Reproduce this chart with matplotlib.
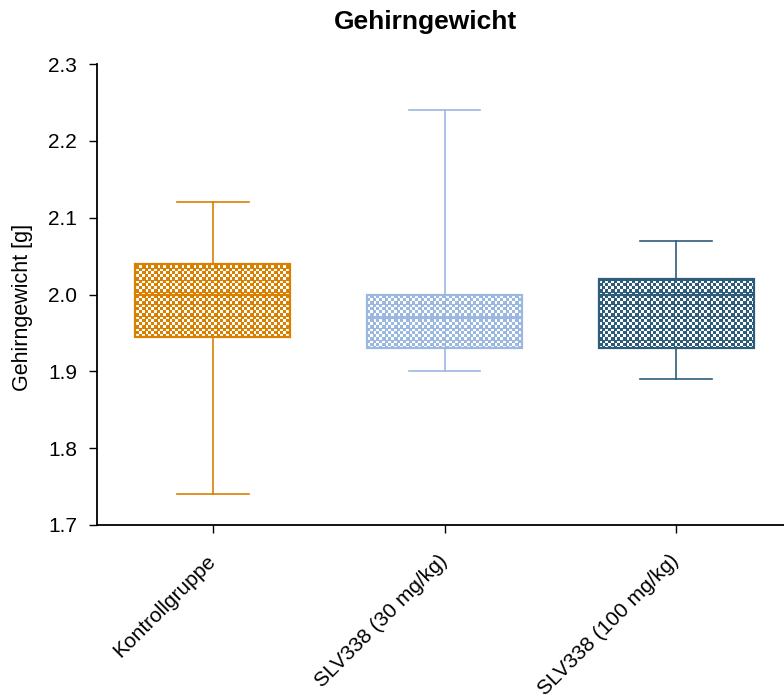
import numpy as np
import matplotlib
matplotlib.use("Agg")
import matplotlib.pyplot as plt
from matplotlib.colors import to_rgba

plt.rcParams['font.family'] = ['Liberation Sans', 'DejaVu Sans']

# Group labels and summary statistics (brain weight in g)
groups = ["Kontrollgruppe", "SLV338 (30 mg/kg)", "SLV338 (100 mg/kg)"]
whisker_low = [1.74, 1.90, 1.89]
q1 = [1.945, 1.93, 1.93]
median = [2.00, 1.97, 2.00]
q3 = [2.04, 2.00, 2.02]
whisker_high = [2.12, 2.24, 2.07]
colors = ["#D98000", "#9BB9E0", "#2E5D7C"]

yticks = [1.7, 1.8, 1.9, 2.0, 2.1, 2.2, 2.3]

W, H = 784, 700
fig = plt.figure(figsize=(W / 100, H / 100), dpi=100)
ax_l, ax_b, ax_w, ax_h = 97, 175, 695, 461
ax = fig.add_axes([ax_l / W, ax_b / H, ax_w / W, ax_h / H])

stats = []
for i, g in enumerate(groups):
    stats.append(dict(label=g, whislo=whisker_low[i], q1=q1[i], med=median[i],
                      q3=q3[i], whishi=whisker_high[i], fliers=[]))

positions = np.arange(len(groups))
bp = ax.bxp(stats, positions=positions, widths=0.67, capwidths=0.31,
            patch_artist=True, showfliers=False, manage_ticks=False)

# Checkered fill pattern in screen pixels, clipped to each box
yy, xx = np.mgrid[0:ax_h, 0:ax_w]
mask = (((xx // 3) + (yy // 3)) % 2 == 0) | (xx % 12 == 0) | (yy % 12 == 0)

for i, c in enumerate(colors):
    box = bp['boxes'][i]
    box.set_facecolor('none')
    box.set_edgecolor(c)
    box.set_linewidth(1.6)
    box.set_zorder(3)
    rgba = np.zeros((ax_h, ax_w, 4))
    rgba[mask] = to_rgba(c)
    im = ax.imshow(rgba, extent=[0, 1, 0, 1], transform=ax.transAxes,
                   interpolation='nearest', aspect='auto', origin='upper', zorder=2)
    im.set_clip_path(box)
    for key in ('whiskers', 'caps'):
        for ln in bp[key][2 * i:2 * i + 2]:
            ln.set_color(c)
            ln.set_linewidth(1.2)
    bp['medians'][i].set_color(c)
    bp['medians'][i].set_linewidth(1.6)
    bp['medians'][i].set_zorder(4)

ax.set_xlim(-0.5, 2.5)
ax.set_ylim(1.7, 2.3)
ax.set_yticks(yticks)
ax.set_yticklabels([f"{v:.1f}" for v in yticks])

ax.set_xticks(positions)
ax.tick_params(axis='both', direction='out', length=5.8, width=1.0,
               colors='black')
ax.tick_params(axis='y', pad=8.6, labelsize=15)
ax.tick_params(axis='x', pad=18, labelsize=15)
ax.set_xticklabels(groups, rotation=45, ha='right', va='center',
                   rotation_mode='anchor')

for s in ('top', 'right'):
    ax.spines[s].set_visible(False)
for s in ('left', 'bottom'):
    ax.spines[s].set_linewidth(1.3)

fig.text(23 / W, 1 - 307 / H, "Gehirngewicht [g]", rotation=90,
         ha='center', va='center', fontsize=15.5)
fig.text(425.5 / W, 1 - 22 / H, "Gehirngewicht", ha='center', va='center',
         fontsize=19, fontweight='bold')

fig.savefig("out.png", dpi=100)
